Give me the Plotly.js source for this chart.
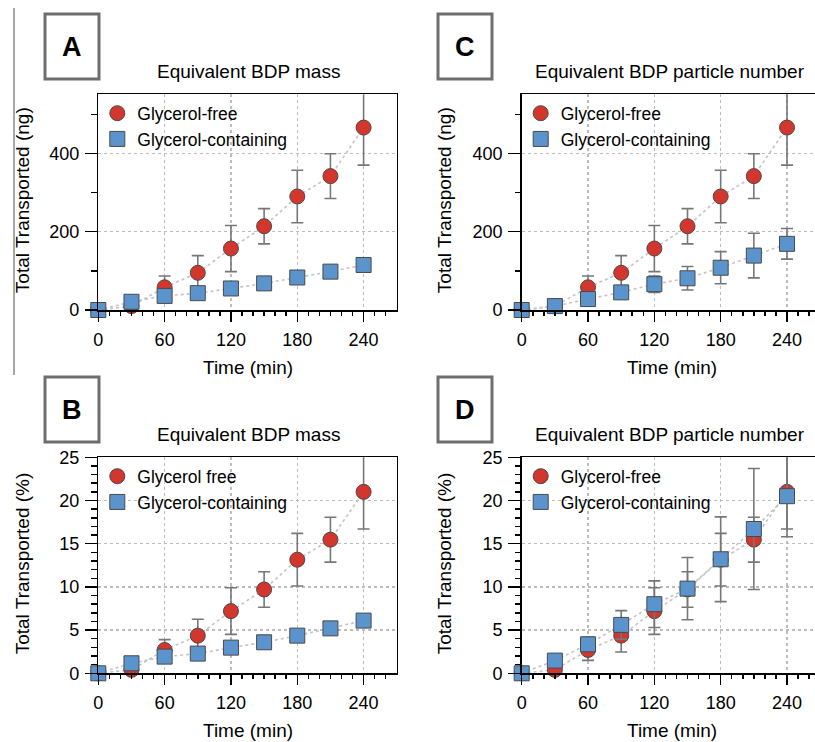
<!DOCTYPE html>
<html>
<head>
<meta charset="utf-8">
<script src="https://cdn.plot.ly/plotly-3.0.1.min.js"></script>
<style>html,body{margin:0;padding:0;background:#fff;}#chart{width:815px;height:742px;}</style>
</head>
<body>
<div id="chart"></div>
<script>
// ---------- DATA ----------
const time = [0, 30, 60, 90, 120, 150, 180, 210, 240];
const xTickVals = [0, 60, 120, 180, 240];

// Panel A & C: Total transported (ng)
const ngFree      = [0, 10, 58, 95, 157, 214, 290, 342, 466];
const ngFreeErr   = [0, 5, 29, 44, 59, 45, 67, 57, 96];
const ngMassGly    = [0, 21, 36, 43, 55, 68, 83, 98, 115];
const ngMassGlyErr = [0, 4, 5, 5, 6, 6, 7, 7, 8];
const ngPartGly    = [0, 10, 28, 45, 66, 81, 108, 139, 169];
const ngPartGlyErr = [0, 4, 8, 10, 21, 30, 41, 57, 39];

// Panel B & D: Total transported (%)
const pctFree      = [0, 0.4, 2.7, 4.36, 7.2, 9.7, 13.15, 15.47, 21.0];
const pctFreeErr   = [0, 0.3, 1.2, 1.9, 2.7, 2.05, 3.05, 2.6, 4.3];
const pctMassGly    = [0, 1.16, 1.93, 2.28, 2.97, 3.59, 4.36, 5.2, 6.1];
const pctMassGlyErr = [0, 0.2, 0.25, 0.3, 0.3, 0.3, 0.35, 0.35, 0.4];
const pctPartGly    = [0, 1.47, 3.36, 5.6, 8.0, 9.8, 13.2, 16.7, 20.5];
const pctPartGlyErr = [0, 0.3, 0.8, 1.65, 2.7, 3.6, 4.9, 7.0, 4.7];

const panelLetters = ['A', 'C', 'B', 'D'];
const panelTitles = ['Equivalent BDP mass', 'Equivalent BDP particle number',
                     'Equivalent BDP mass', 'Equivalent BDP particle number'];
const freeNames = ['Glycerol-free', 'Glycerol-free', 'Glycerol free', 'Glycerol-free'];
const glyName = 'Glycerol-containing';
const yTitles = ['Total Transported (ng)', 'Total Transported (ng)',
                 'Total Transported (%)', 'Total Transported (%)'];
const xTitle = 'Time (min)';

// ---------- STYLE ----------
const W = 815, H = 742;
const FONT = '"Liberation Sans", Arial, Helvetica, sans-serif';
const RED = '#d3362c', BLUE = '#5b93cc', OUT = '#4a4a4a', ERR = '#777777';
const px = v => v / W, py = v => 1 - v / H;

const panels = [
  {free: ngFree, freeErr: ngFreeErr, gly: ngMassGly, glyErr: ngMassGlyErr},
  {free: ngFree, freeErr: ngFreeErr, gly: ngPartGly, glyErr: ngPartGlyErr},
  {free: pctFree, freeErr: pctFreeErr, gly: pctMassGly, glyErr: pctMassGlyErr},
  {free: pctFree, freeErr: pctFreeErr, gly: pctPartGly, glyErr: pctPartGlyErr}
];
const axSuffix = ['', '2', '3', '4'];
const colLeft = [98.3, 521.7, 98.3, 521.7];
const rowTop = [94.3, 94.3, 457.3, 457.3];
const rowBot = [310, 310, 673.3, 673.3];
const xRightPx = [396.7, W, 396.7, W];
const pxPerMin = 265.3 / 240;

const yRanges = [[0, 551], [0, 551], [0, 25], [0, 25]];
const yDticks = [200, 200, 5, 5];
const yMinor = [100, 100, 1, 1];

const traces = [];
panels.forEach((p, i) => {
  const xa = 'x' + axSuffix[i], ya = 'y' + axSuffix[i];
  const lg = 'legend' + axSuffix[i];
  const errStyle = arr => ({type: 'data', array: arr, visible: true, color: ERR, thickness: 1.6, width: 6});
  traces.push({x: time, y: p.free, xaxis: xa, yaxis: ya, mode: 'lines', showlegend: false,
    line: {color: '#c4c4c4', width: 1.6, dash: 'dot'}, error_y: errStyle(p.freeErr), hoverinfo: 'skip'});
  traces.push({x: time, y: p.free, xaxis: xa, yaxis: ya, mode: 'markers', name: freeNames[i], legend: lg,
    cliponaxis: false, marker: {symbol: 'circle', size: 15, color: RED, line: {color: OUT, width: 1}}});
  traces.push({x: time, y: p.gly, xaxis: xa, yaxis: ya, mode: 'lines', showlegend: false,
    line: {color: '#c4c4c4', width: 1.6, dash: 'dot'}, error_y: errStyle(p.glyErr), hoverinfo: 'skip'});
  traces.push({x: time, y: p.gly, xaxis: xa, yaxis: ya, mode: 'markers', name: glyName, legend: lg,
    cliponaxis: false, marker: {symbol: 'square', size: 15, color: BLUE, line: {color: OUT, width: 1}}});
  // empty traces that attach the minor-tick overlay axes
  traces.push({x: [], y: [], xaxis: 'x' + (5 + i), yaxis: ya, showlegend: false, hoverinfo: 'skip'});
  traces.push({x: [], y: [], xaxis: xa, yaxis: 'y' + (5 + i), showlegend: false, hoverinfo: 'skip'});
});

const layout = {
  width: W, height: H,
  margin: {l: 0, r: 0, t: 0, b: 0},
  paper_bgcolor: '#fff', plot_bgcolor: '#fff',
  font: {family: FONT, color: '#000'},
  showlegend: true,
  annotations: [], shapes: []
};

panels.forEach((p, i) => {
  const s = axSuffix[i];
  const xr = (xRightPx[i] - colLeft[i]) / pxPerMin;
  layout['xaxis' + s] = {
    domain: [px(colLeft[i]), px(xRightPx[i])], anchor: 'y' + s,
    range: [0, xr], tickmode: 'array', tickvals: xTickVals,
    ticks: 'outside', ticklen: 10, tickwidth: 1.5, tickcolor: '#000',
    ticklabelstandoff: 3,
    showline: true, linecolor: '#000', linewidth: 1.5, mirror: true,
    showgrid: true, gridcolor: '#bdbdbd', griddash: 'dot', gridwidth: 1.2,
    zeroline: false, fixedrange: true,
    tickfont: {size: 18, family: FONT, color: '#000'}
  };
  // minor x ticks (every 10 min)
  layout['xaxis' + (5 + i)] = {
    overlaying: 'x' + s, anchor: 'y' + s, side: 'bottom',
    range: [0, xr], tick0: 0, dtick: 10, ticks: 'outside', ticklen: 5, tickwidth: 1.5, tickcolor: '#000',
    showticklabels: false, showgrid: false, showline: false, zeroline: false, fixedrange: true
  };
  layout['yaxis' + s] = {
    domain: [py(rowBot[i]), py(rowTop[i])], anchor: 'x' + s,
    range: yRanges[i], dtick: yDticks[i], tick0: 0,
    ticks: 'outside', ticklen: 12, tickwidth: 1.5, tickcolor: '#000',
    ticklabelstandoff: 2,
    showline: true, linecolor: '#000', linewidth: 1.5, mirror: (i % 2 === 0),
    showgrid: true, gridcolor: '#bdbdbd', griddash: 'dot', gridwidth: 1.2,
    zeroline: false, fixedrange: true,
    tickfont: {size: 18, family: FONT, color: '#000'}
  };
  // minor y ticks
  layout['yaxis' + (5 + i)] = {
    overlaying: 'y' + s, anchor: 'x' + s, side: 'left',
    range: yRanges[i], tick0: 0, dtick: yMinor[i], ticks: 'outside', ticklen: 6, tickwidth: 1.5, tickcolor: '#000',
    showticklabels: false, showgrid: false, showline: false, zeroline: false, fixedrange: true
  };
  layout['legend' + s] = {
    x: px(colLeft[i] - 1), y: py(rowTop[i] + 1), xanchor: 'left', yanchor: 'top',
    bgcolor: 'rgba(0,0,0,0)', borderwidth: 0, tracegroupgap: 0,
    font: {size: 17.5, family: FONT, color: '#000'}, itemwidth: 30
  };
  // panel title
  layout.annotations.push({xref: 'paper', yref: 'paper', x: px(i % 2 ? 670 : 248), y: py(rowTop[i] - 23),
    text: panelTitles[i], showarrow: false, font: {size: 19, family: FONT, color: '#000'}, xanchor: 'center', yanchor: 'middle'});
  // x title
  layout.annotations.push({xref: 'paper', yref: 'paper', x: px(i % 2 ? 672 : 248), y: py(rowBot[i] + 57),
    text: xTitle, showarrow: false, font: {size: 19, family: FONT, color: '#000'}, xanchor: 'center', yanchor: 'middle'});
  // y title
  layout.annotations.push({xref: 'paper', yref: 'paper', x: px(i % 2 ? 444 : 22), y: py((rowTop[i] + rowBot[i]) / 2 - 2),
    text: yTitles[i], textangle: -90, showarrow: false, font: {size: 19, family: FONT, color: '#000'}, xanchor: 'center', yanchor: 'middle'});
  // letter box
  const bx0 = i % 2 ? 438 : 45, bx1 = i % 2 ? 492 : 99;
  const by0 = i < 2 ? 14 : 377, by1 = i < 2 ? 79 : 442;
  layout.shapes.push({type: 'rect', xref: 'paper', yref: 'paper', x0: px(bx0), x1: px(bx1), y0: py(by1), y1: py(by0),
    line: {color: '#6e6e6e', width: 3}, fillcolor: 'rgba(0,0,0,0)'});
  layout.annotations.push({xref: 'paper', yref: 'paper', x: px((bx0 + bx1) / 2), y: py((by0 + by1) / 2),
    text: '<b>' + panelLetters[i] + '</b>', showarrow: false, font: {size: 27, family: FONT, color: '#000'}, xanchor: 'center', yanchor: 'middle'});
});

// thin separator line at the left of panel A
layout.shapes.push({type: 'line', xref: 'paper', yref: 'paper', x0: px(14), x1: px(14), y0: py(8), y1: py(375),
  line: {color: '#8a8a8a', width: 1.5}});

Plotly.newPlot('chart', traces, layout, {displayModeBar: false, staticPlot: true});
</script>
</body>
</html>
